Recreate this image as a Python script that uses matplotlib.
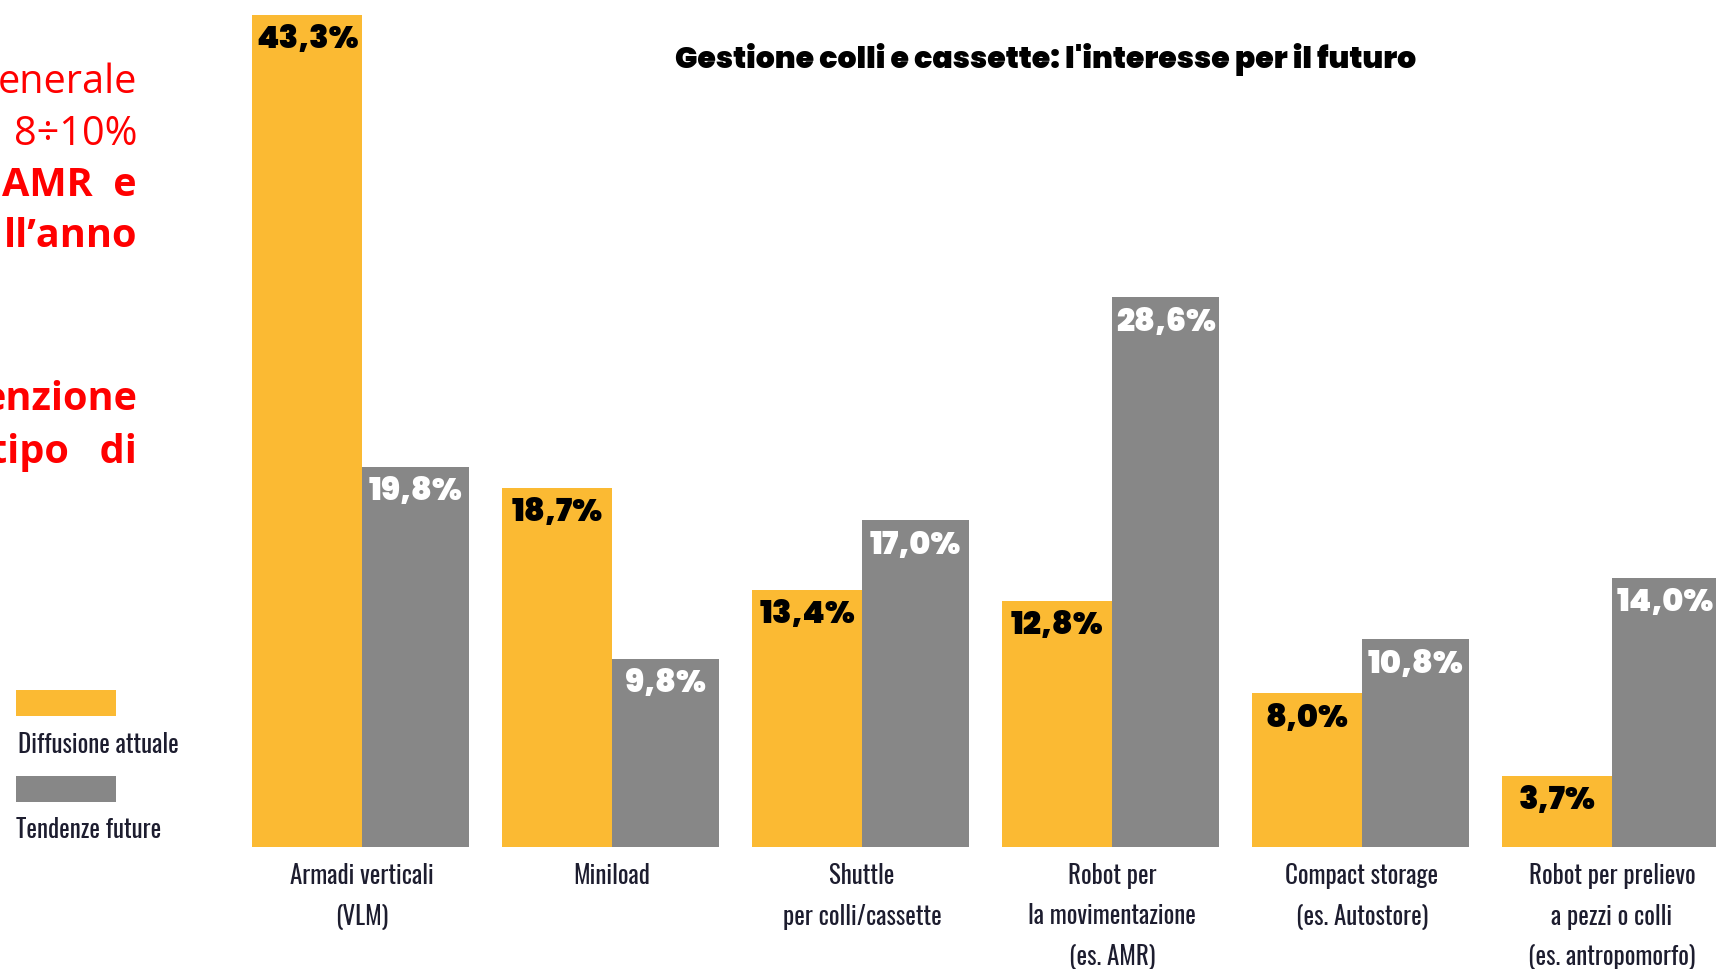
import matplotlib
matplotlib.use("Agg")
import matplotlib.pyplot as plt
from matplotlib.patches import Rectangle
from matplotlib.transforms import blended_transform_factory
import numpy as np

# ---- data ----
categories = [
    "Armadi verticali\n(VLM)",
    "Miniload",
    "Shuttle\nper colli/cassette",
    "Robot per\nla movimentazione\n(es. AMR)",
    "Compact storage\n(es. Autostore)",
    "Robot per prelievo\na pezzi o colli\n(es. antropomorfo)",
]
diffusione_attuale = [43.3, 18.7, 13.4, 12.8, 8.0, 3.7]
tendenze_future = [19.8, 9.8, 17.0, 28.6, 10.8, 14.0]
series_names = ["Diffusione attuale", "Tendenze future"]
title = "Gestione colli e cassette: l'interesse per il futuro"
side_lines = ["enerale", "8÷10%", "AMR  e", "ll’anno", "enzione", "tipo   di"]
side_bold = [False, False, True, True, True, True]

# ---- style ----
YELLOW = "#FBBA33"
GREY = "#878787"
LABEL_COLOR = "#1d1d2f"
RED = "#FF0000"
NARROW = ["Oswald", "Antonio", "Roboto Condensed", "DejaVu Sans"]
HEAVY = ["Poppins", "DejaVu Sans"]

W, H, DPI = 1716, 969, 100
fig = plt.figure(figsize=(W / DPI, H / DPI), dpi=DPI)
fig.patch.set_facecolor("white")

# bar axes: baseline near the bottom, spanning the whole width
base_px = 847
ax = fig.add_axes([0, (H - base_px) / H, 1, base_px / H])
px_per_unit_y = (847 - 15) / 43.3
ax.set_ylim(0, base_px / px_per_unit_y)
pitch = 250.0
x0 = 362.0
ax.set_xlim((0 - x0) / pitch, (W - x0) / pitch)
ax.axis("off")

x = np.arange(len(categories))
bw = 0.438
ax.bar(x, diffusione_attuale, width=-bw, align="edge", color=YELLOW, linewidth=0)
ax.bar(x, tendenze_future, width=bw * 0.98, align="edge", color=GREY, linewidth=0)

# value labels inside the top of each bar
def pct(v):
    return f"{v:.1f}%".replace(".", ",")

for xi, v in zip(x, diffusione_attuale):
    ax.annotate(pct(v), xy=(xi - bw / 2, v), xytext=(0, -7.5), textcoords="offset points",
                ha="center", va="top", fontsize=23, fontweight=900, color="black",
                family=HEAVY)
for xi, v in zip(x, tendenze_future):
    ax.annotate(pct(v), xy=(xi + bw * 0.49, v), xytext=(0, -7.5), textcoords="offset points",
                ha="center", va="top", fontsize=23, fontweight=900, color="white",
                family=HEAVY)

# category labels under each group, one text per line
trans = blended_transform_factory(ax.transData, fig.transFigure)
for xi, lab in zip(x, categories):
    for j, line in enumerate(lab.split("\n")):
        ax.text(xi, 1 - (876 + 40.5 * j) / H, line, ha="center", va="center",
                fontsize=18, fontweight=500, color=LABEL_COLOR, family=NARROW,
                transform=trans)

# title
fig.text(1046 / W, 1 - 59 / H, title, ha="center", va="center", fontsize=21.5,
         fontweight=900, family=HEAVY, color="black")

# legend swatches and labels
fig.patches.append(Rectangle((16 / W, 1 - 716 / H), 100 / W, 26 / H,
                             transform=fig.transFigure, color=YELLOW, linewidth=0))
fig.patches.append(Rectangle((16 / W, 1 - 802 / H), 100 / W, 26 / H,
                             transform=fig.transFigure, color=GREY, linewidth=0))
fig.text(18 / W, 1 - 745 / H, series_names[0], ha="left", va="center", fontsize=18,
         fontweight=500, color=LABEL_COLOR, family=NARROW)
fig.text(16 / W, 1 - 830 / H, series_names[1], ha="left", va="center", fontsize=18,
         fontweight=500, color=LABEL_COLOR, family=NARROW)

# red side text
side_y = [83, 135, 186, 237, 399, 452]
for txt, yy, b in zip(side_lines, side_y, side_bold):
    fig.text(137 / W, 1 - yy / H, txt, ha="right", va="center", fontsize=28.5,
             fontweight="bold" if b else "normal", color=RED,
             family=["Open Sans", "DejaVu Sans"])

fig.savefig("out.png", dpi=DPI, facecolor="white")
